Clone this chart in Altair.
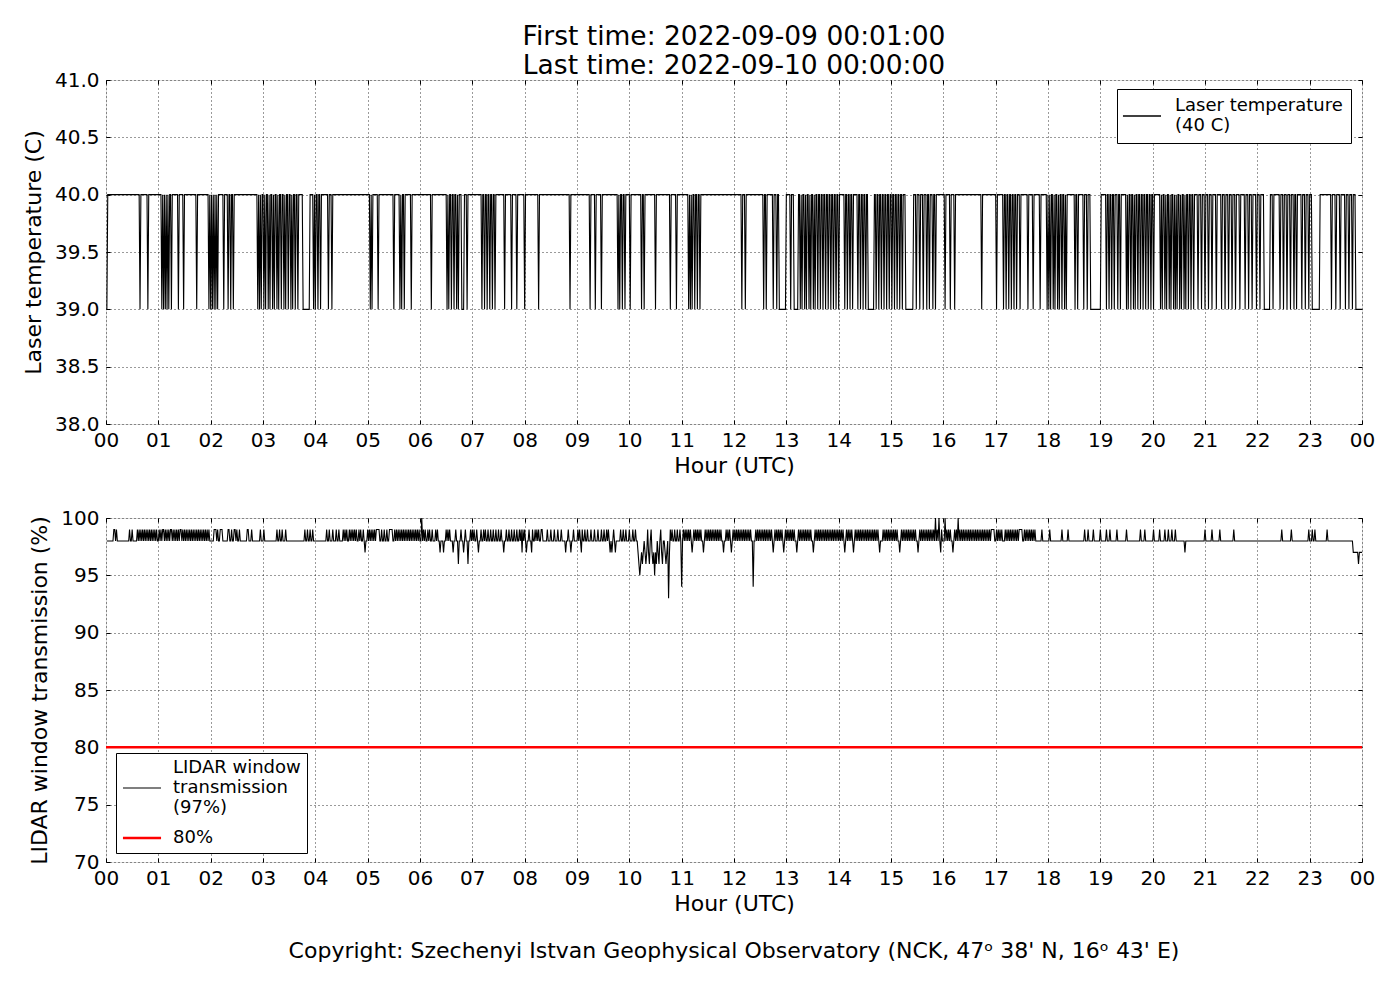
import altair as alt
import pandas as pd

FONT = "DejaVu Sans"
W, H = 1256, 344

# ---------------- text ----------------
title_lines = ["First time: 2022-09-09 00:01:00", "Last time: 2022-09-10 00:00:00"]
copyright_text = "Copyright: Szechenyi Istvan Geophysical Observatory (NCK, 47ᵒ  38' N, 16ᵒ  43' E)"
temp_label = "Laser temperature|(40 C)"
trans_label = "LIDAR window|transmission|(97%)"
thresh_label = "80%"

# ---------------- ticks ----------------
hour_ticks = list(range(0, 25))
temp_ticks = [38.0, 38.5, 39.0, 39.5, 40.0, 40.5, 41.0]
trans_ticks = [70, 75, 80, 85, 90, 95, 100]

# ---------------- data (minute of day, 1..1440) ----------------
minutes = list(range(1, 1441))

temp_base = 40.0
temp_low = 39.0
temp_dips = [1, 39, 48, 64, 66, 68, 70, 72, 75, 83, 89, 104, 118, 120, 122, 124, 126, 128, 135,
             140, 143, 146, 174, 176, 178, 181, 183, 186, 188, 191, 193, 196, 198, 201, 204, 206,
             209, 212, 214, 217, 220, 238, 240, 243, 246, 255, 259, 303, 305, 312, 330, 337, 339,
             342, 350, 373, 391, 393, 396, 399, 402, 404, 414, 431, 434, 437, 440, 443, 446, 457,
             465, 471, 480, 496, 532, 555, 561, 568, 587, 589, 592, 595, 601, 614, 617, 630, 647,
             654, 668, 670, 672, 675, 678, 681, 729, 733, 754, 757, 765, 769, 785, 796, 798, 801,
             803, 806, 808, 811, 813, 816, 819, 822, 825, 828, 831, 834, 837, 840, 847, 850, 853,
             856, 862, 865, 868, 871, 883, 886, 889, 892, 895, 898, 901, 904, 907, 910, 913, 929,
             933, 937, 941, 944, 948, 951, 962, 968, 973, 1004, 1021, 1029, 1032, 1035, 1038, 1041,
             1044, 1048, 1057, 1063, 1071, 1079, 1081, 1083, 1086, 1088, 1091, 1093, 1096, 1099,
             1101, 1111, 1114, 1121, 1125, 1147, 1150, 1153, 1156, 1160, 1163, 1170, 1172, 1175,
             1178, 1180, 1183, 1186, 1189, 1192, 1195, 1198, 1201, 1209, 1211, 1214, 1216, 1219,
             1221, 1224, 1226, 1228, 1231, 1233, 1236, 1238, 1241, 1244, 1247, 1252, 1256, 1260,
             1264, 1268, 1273, 1279, 1283, 1287, 1291, 1295, 1300, 1306, 1310, 1314, 1319, 1323,
             1338, 1346, 1350, 1354, 1358, 1362, 1365, 1371, 1375, 1379, 1405, 1410, 1415, 1421,
             1425, 1429, 1433]
temp_low_runs = [(226, 233), (408, 410), (772, 779), (789, 793), (874, 880), (917, 925),
                 (1129, 1140), (1328, 1334), (1383, 1391), (1434, 1440)]

trans_base = 98
trans_99 = [9, 10, 12, 27, 30, 36, 38, 40, 42, 44, 46, 48, 50, 52, 54, 56, 58, 61, 63, 65, 66, 68,
            70, 72, 74, 75, 77, 79, 81, 83, 85, 86, 88, 90, 92, 94, 96, 98, 100, 102, 104, 106, 108,
            110, 112, 114, 116, 118, 124, 125, 126, 128, 131, 132, 133, 140, 141, 144, 147, 148,
            150, 153, 162, 163, 167, 177, 181, 196, 199, 202, 206, 228, 231, 234, 237, 253, 256,
            260, 264, 267, 272, 274, 276, 279, 281, 283, 285, 287, 290, 292, 295, 300, 302, 304,
            306, 308, 310, 311, 312, 313, 316, 319, 322, 325, 326, 327, 328, 331, 333, 335, 337,
            339, 341, 343, 345, 347, 349, 351, 353, 355, 357, 359, 364, 366, 369, 371, 374, 378,
            380, 390, 392, 394, 401, 407, 412, 418, 420, 422, 425, 430, 433, 435, 438, 441, 444,
            447, 450, 453, 459, 462, 465, 468, 471, 474, 476, 478, 480, 485, 489, 492, 494, 496,
            499, 500, 506, 510, 514, 518, 522, 530, 536, 541, 543, 546, 549, 552, 556, 560, 564,
            568, 571, 574, 576, 582, 590, 593, 596, 600, 604, 607, 621, 625, 636, 647, 649, 652,
            655, 658, 662, 664, 666, 668, 670, 674, 676, 678, 680, 682, 687, 689, 691, 693, 695,
            697, 699, 701, 703, 705, 711, 713, 715, 719, 721, 723, 725, 727, 729, 731, 733, 735,
            737, 739, 745, 747, 749, 751, 753, 755, 757, 759, 761, 763, 767, 769, 771, 773, 775,
            779, 781, 783, 785, 787, 789, 794, 796, 798, 800, 802, 804, 806, 808, 813, 815, 817,
            819, 821, 823, 825, 827, 829, 831, 833, 835, 837, 839, 841, 843, 845, 849, 851, 853,
            855, 859, 861, 863, 865, 867, 869, 871, 873, 875, 877, 879, 881, 883, 885, 891, 893,
            895, 897, 899, 901, 903, 905, 907, 912, 914, 916, 918, 920, 922, 924, 926, 928, 933,
            935, 937, 939, 941, 943, 945, 947, 949, 953, 958, 964, 966, 968, 973, 975, 979, 981,
            983, 985, 987, 989, 991, 993, 995, 997, 999, 1001, 1003, 1005, 1007, 1009, 1011, 1013,
            1015, 1016, 1017, 1018, 1021, 1023, 1025, 1027, 1031, 1033, 1035, 1037, 1039, 1041,
            1043, 1045, 1047, 1048, 1049, 1050, 1053, 1055, 1057, 1059, 1061, 1063, 1065, 1073,
            1082, 1096, 1103, 1122, 1126, 1132, 1140, 1147, 1151, 1159, 1170, 1186, 1191, 1201,
            1208, 1214, 1218, 1222, 1226, 1260, 1268, 1277, 1293, 1348, 1359, 1379, 1383, 1386,
            1400]
trans_97 = [297, 383, 387, 398, 410, 427, 456, 477, 482, 488, 527, 533, 545, 578, 580, 584, 610,
            614, 616, 618, 620, 622, 626, 628, 630, 633, 637, 641, 643, 646, 672, 685, 708, 717,
            765, 777, 792, 811, 847, 857, 887, 910, 931, 957, 971, 1237, 1430, 1431, 1432, 1433,
            1434, 1435, 1437, 1438, 1439, 1440]
trans_96 = [404, 415, 611, 613, 615, 619, 623, 627, 631, 634, 638, 642, 1436]
trans_95 = [612, 629]
trans_94 = [660, 742]
trans_93 = [645]
trans_100 = [362, 951, 955, 962, 977]
threshold = 80

# ---------------- build tables ----------------
temp_vals = {m: temp_base for m in minutes}
for m in temp_dips:
    temp_vals[m] = temp_low
for a, b in temp_low_runs:
    for m in range(a, b + 1):
        temp_vals[m] = temp_low

trans_vals = {m: trans_base for m in minutes}
for level, lst in [(99, trans_99), (97, trans_97), (96, trans_96), (95, trans_95),
                   (94, trans_94), (93, trans_93), (100, trans_100)]:
    for m in lst:
        trans_vals[m] = level

temp_df = pd.DataFrame({"hour": [m / 60 for m in minutes],
                        "value": [temp_vals[m] for m in minutes],
                        "series": temp_label})
trans_df = pd.concat([
    pd.DataFrame({"hour": [m / 60 for m in minutes],
                  "value": [trans_vals[m] for m in minutes],
                  "series": trans_label}),
    pd.DataFrame({"hour": [0, 24], "value": [threshold, threshold], "series": thresh_label}),
], ignore_index=True)

# ---------------- axes helpers ----------------
hour_expr = "datum.value == 24 ? '00' : (datum.value < 10 ? '0' + datum.value : '' + datum.value)"
grid_kw = dict(grid=True, gridDash=[1, 3], gridColor="black", gridWidth=0.8, gridOpacity=1)
lab_kw = dict(labelFont=FONT, labelFontSize=20, labelColor="black", titleFont=FONT,
              titleFontSize=22, titleFontWeight="normal", titleColor="black", domain=False,
              ticks=True, tickSize=4, tickColor="black", tickWidth=1, offset=-4)

x_scale = alt.Scale(domain=[0, 24], nice=False, zero=False)


def x_main():
    return alt.X("hour:Q", scale=x_scale,
                 axis=alt.Axis(values=hour_ticks, labelExpr=hour_expr, title="Hour (UTC)",
                               labelPadding=6, titlePadding=5, labelFlush=False,
                               **grid_kw, **lab_kw))


def x_top():
    return alt.X("hour:Q", scale=x_scale,
                 axis=alt.Axis(orient="top", values=hour_ticks, labels=False, title=None,
                               grid=False, domain=False, ticks=True, tickSize=4,
                               tickColor="black", offset=-4))


def legend(x, y, pad, pad_rows, symbol, sym_off, lab_off):
    return alt.Legend(title=None, orient="none", legendX=x, legendY=y,
                      labelExpr="split(datum.label, '|')", strokeColor="black",
                      fillColor="white", padding=pad, symbolType=symbol, symbolSize=196,
                      symbolOffset=sym_off, labelFont=FONT, labelFontSize=18,
                      labelColor="black", labelOffset=lab_off, labelLimit=0,
                      rowPadding=pad_rows, cornerRadius=0)


# legend line symbols (38 px long), drawn at the middle of multi-line labels
top_symbol = "M-2.72,1.43H2.72"
bot_symbol = alt.ExprRef(expr="datum.value == '80%' ? 'M-2.72,0H2.72' : 'M-2.72,2.86H2.72'")

# ---------------- top panel ----------------
t_scale = alt.Scale(domain=[38, 41], nice=False, zero=False)
top_line = alt.Chart(temp_df).mark_line(strokeWidth=1.1, interpolate="linear").encode(
    x=x_main(),
    y=alt.Y("value:Q", scale=t_scale,
            axis=alt.Axis(values=temp_ticks, format=".1f", title="Laser temperature (C)",
                          labelPadding=7, titlePadding=9, **grid_kw, **lab_kw)),
    color=alt.Color("series:N", scale=alt.Scale(domain=[temp_label], range=["black"]),
                    legend=legend(1011, 9, 8, 0, top_symbol, 8, 24)),
)
top_frame = alt.Chart(temp_df).mark_line(strokeOpacity=0).encode(
    x=x_top(),
    y=alt.Y("value:Q", scale=t_scale,
            axis=alt.Axis(orient="right", values=temp_ticks, labels=False, title=None,
                          grid=False, domain=False, ticks=True, tickSize=4,
                          tickColor="black", offset=-4)),
)
top = alt.layer(top_line, top_frame).resolve_axis(x="independent", y="independent").properties(
    width=W, height=H)

# ---------------- bottom panel ----------------
b_scale = alt.Scale(domain=[70, 100], nice=False, zero=False)
bot_legend = legend(10, 235, 6, 12, bot_symbol, 11, 22)
bot_line = alt.Chart(trans_df).mark_line(interpolate="linear").encode(
    x=x_main(),
    y=alt.Y("value:Q", scale=b_scale,
            axis=alt.Axis(values=trans_ticks, title="LIDAR window transmission (%)",
                          labelPadding=7, titlePadding=9, **grid_kw, **lab_kw)),
    color=alt.Color("series:N",
                    scale=alt.Scale(domain=[trans_label, thresh_label], range=["black", "#ff0000"]),
                    legend=bot_legend),
    strokeWidth=alt.StrokeWidth("series:N",
                                scale=alt.Scale(domain=[trans_label, thresh_label], range=[1.1, 2.5]),
                                legend=bot_legend),
)
bot_frame = alt.Chart(trans_df).mark_line(strokeOpacity=0).encode(
    x=x_top(),
    y=alt.Y("value:Q", scale=b_scale,
            axis=alt.Axis(orient="right", values=trans_ticks, labels=False, title=None,
                          grid=False, domain=False, ticks=True, tickSize=4,
                          tickColor="black", offset=-4)),
)
bottom = alt.layer(bot_line, bot_frame).resolve_axis(x="independent", y="independent").properties(
    width=W, height=H,
    title=alt.TitleParams(copyright_text, orient="bottom", anchor="middle", frame="group",
                          font=FONT, fontSize=22, fontWeight="normal", color="black", offset=27),
)

chart = alt.vconcat(top, bottom, spacing=94, bounds="flush").resolve_scale(
    color="independent", strokeWidth="independent"
).resolve_legend(color="independent", strokeWidth="independent").properties(
    title=alt.TitleParams(title_lines, anchor="middle", frame="group", font=FONT, fontSize=26.5,
                          fontWeight="normal", color="black", lineHeight=29, offset=-10),
    padding={"left": 13, "top": 16, "right": 10, "bottom": 10},
    background="white",
).configure_view(stroke="black", strokeWidth=1).configure(font=FONT)

chart.save("out.html", embed_options={"renderer": "svg", "actions": False})
